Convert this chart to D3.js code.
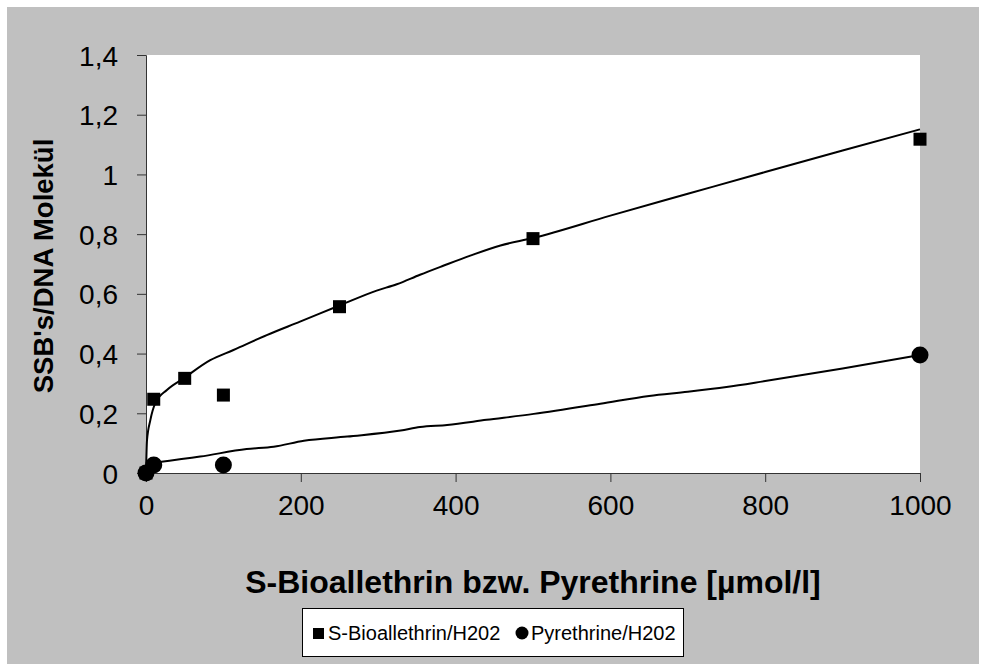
<!DOCTYPE html>
<html>
<head>
<meta charset="utf-8">
<script src="https://cdn.jsdelivr.net/npm/d3@7"></script>
<style>
  body { margin: 0; background: #ffffff; }
  text { font-family: "Liberation Sans", Arial, sans-serif; fill: #000; }
</style>
</head>
<body>
<svg id="chart" width="986" height="664"></svg>
<script>
// Measured points
const bioConc = [0, 10, 50, 100, 250, 500, 1000];
const bioSSB  = [0, 0.247, 0.317, 0.261, 0.557, 0.785, 1.118];
const pyrConc = [0, 10, 100, 1000];
const pyrSSB  = [0, 0.027, 0.027, 0.395];

// Trend curves
const bioTrendX = [0, 1.3, 5.6, 12, 27, 48.6, 83, 113, 156, 199, 250, 298, 324, 354, 384, 419, 458, 500, 600, 700, 800, 900, 1000];
const bioTrendY = [0, 0.11, 0.177, 0.234, 0.278, 0.317, 0.378, 0.412, 0.462, 0.507, 0.561, 0.611, 0.632, 0.664, 0.694, 0.728, 0.762, 0.787, 0.862, 0.935, 1.008, 1.08, 1.151];
const pyrTrendX = [12, 70, 130, 165, 204, 260, 329, 354, 389, 440, 501, 587, 650, 700, 750, 800, 900, 1000];
const pyrTrendY = [0.035, 0.055, 0.08, 0.088, 0.108, 0.122, 0.142, 0.154, 0.161, 0.178, 0.198, 0.232, 0.258, 0.272, 0.288, 0.308, 0.35, 0.395];

const xTicks = [0, 200, 400, 600, 800, 1000];
const yTicks = [0, 0.2, 0.4, 0.6, 0.8, 1, 1.2, 1.4];

const xTitle = "S-Bioallethrin bzw. Pyrethrine [µmol/l]";
const yTitle = "SSB's/DNA Molekül";
const legendLabels = ["S-Bioallethrin/H202", "Pyrethrine/H202"];

const svg = d3.select("#chart");

// chart area background
svg.append("rect").attr("x", 7).attr("y", 7).attr("width", 972).attr("height", 657).attr("fill", "#c0c0c0");

const plot = { left: 146, right: 920, top: 55, bottom: 473 };
svg.append("rect")
  .attr("x", plot.left).attr("y", plot.top)
  .attr("width", plot.right - plot.left).attr("height", plot.bottom - plot.top)
  .attr("fill", "#ffffff");

const x = d3.scaleLinear().domain([0, 1000]).range([plot.left, plot.right]);
const y = d3.scaleLinear().domain([0, 1.4]).range([plot.bottom, plot.top]);

const fmt = v => String(+v.toFixed(1)).replace(".", ",");

// axes
const xAxis = svg.append("g").attr("transform", `translate(0,${plot.bottom})`)
  .call(d3.axisBottom(x).tickValues(xTicks).tickSize(9).tickPadding(10).tickFormat(d3.format("d")));
const yAxis = svg.append("g").attr("transform", `translate(${plot.left},0)`)
  .call(d3.axisLeft(y).tickValues(yTicks).tickSize(9).tickPadding(19).tickFormat(fmt));
[xAxis, yAxis].forEach(g => {
  g.select(".domain").attr("stroke", "#333").attr("stroke-width", 1);
  g.selectAll(".tick line").attr("stroke", "#333");
  g.selectAll(".tick text").attr("font-size", 28).attr("font-family", "Liberation Sans, Arial, sans-serif").attr("fill", "#000");
});
xAxis.selectAll(".tick text").attr("dy", "0.82em");
yAxis.selectAll(".tick text").attr("dy", "0.36em");

// trend curves
const line = d3.line().x(d => x(d[0])).y(d => y(d[1])).curve(d3.curveMonotoneX);
const curves = svg.append("g");
curves.append("path")
  .datum(bioTrendX.map((v, i) => [v, bioTrendY[i]]))
  .attr("d", line).attr("fill", "none").attr("stroke", "#000").attr("stroke-width", 2);
curves.append("path")
  .datum(pyrTrendX.map((v, i) => [v, pyrTrendY[i]]))
  .attr("d", line).attr("fill", "none").attr("stroke", "#000").attr("stroke-width", 2);

// markers
const sq = 13;
svg.append("g").selectAll("rect")
  .data(bioConc.map((v, i) => [v, bioSSB[i]]))
  .join("rect")
  .attr("x", d => x(d[0]) - sq / 2).attr("y", d => y(d[1]) - sq / 2)
  .attr("width", sq).attr("height", sq).attr("fill", "#000");
svg.append("g").selectAll("circle")
  .data(pyrConc.map((v, i) => [v, pyrSSB[i]]))
  .join("circle")
  .attr("cx", d => x(d[0])).attr("cy", d => y(d[1])).attr("r", 8.5).attr("fill", "#000");

// axis titles
svg.append("text")
  .attr("x", (plot.left + plot.right) / 2).attr("y", 593)
  .attr("text-anchor", "middle").attr("font-size", 32).attr("font-weight", "bold")
  .text(xTitle);
svg.append("text")
  .attr("transform", `translate(53,${(plot.top + plot.bottom) / 2 + 2}) rotate(-90)`)
  .attr("text-anchor", "middle").attr("font-size", 27.5).attr("font-weight", "bold")
  .text(yTitle);

// legend
const lg = svg.append("g");
lg.append("rect").attr("x", 302.5).attr("y", 608.5).attr("width", 381).attr("height", 48)
  .attr("fill", "#fff").attr("stroke", "#000").attr("stroke-width", 1);
lg.append("rect").attr("x", 313).attr("y", 628).attr("width", 11).attr("height", 11).attr("fill", "#000");
lg.append("text").attr("x", 328).attr("y", 640).attr("font-size", 20).text(legendLabels[0]);
lg.append("circle").attr("cx", 522).attr("cy", 633).attr("r", 6.5).attr("fill", "#000");
lg.append("text").attr("x", 531).attr("y", 640).attr("font-size", 20).text(legendLabels[1]);
</script>
</body>
</html>
